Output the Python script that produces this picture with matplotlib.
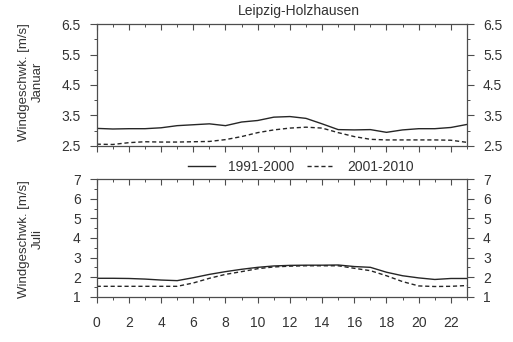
import matplotlib
matplotlib.use("Agg")
import matplotlib.pyplot as plt
from matplotlib.ticker import MultipleLocator

plt.rcParams["font.family"] = ["Liberation Sans", "DejaVu Sans"]

# Tagesgang der Windgeschwindigkeit (Stundenmittel)
hours = list(range(24))
jan_1991_2000 = [3.07, 3.05, 3.06, 3.06, 3.09, 3.16, 3.19, 3.22, 3.16, 3.28, 3.33, 3.44,
                 3.46, 3.40, 3.22, 3.03, 3.02, 3.03, 2.94, 3.02, 3.06, 3.06, 3.10, 3.20]
jan_2001_2010 = [2.55, 2.54, 2.60, 2.63, 2.62, 2.62, 2.63, 2.64, 2.70, 2.80, 2.93, 3.02,
                 3.08, 3.11, 3.08, 2.93, 2.80, 2.71, 2.69, 2.69, 2.69, 2.69, 2.68, 2.61]
jul_1991_2000 = [1.94, 1.94, 1.93, 1.90, 1.85, 1.82, 1.97, 2.14, 2.28, 2.40, 2.50, 2.57,
                 2.60, 2.61, 2.61, 2.62, 2.54, 2.50, 2.25, 2.07, 1.96, 1.88, 1.93, 1.93]
jul_2001_2010 = [1.53, 1.53, 1.53, 1.53, 1.53, 1.53, 1.70, 1.94, 2.14, 2.28, 2.43, 2.52,
                 2.56, 2.58, 2.58, 2.58, 2.45, 2.33, 2.07, 1.77, 1.55, 1.52, 1.53, 1.57]
xticks = list(range(0, 23, 2))
jan_yticks = [2.5, 3.5, 4.5, 5.5, 6.5]

TXT = "#333333"
LINE = "#262626"
SPINE = "#4d4d4d"
FS = 10

fig = plt.figure(figsize=(5.13, 3.42), dpi=100)
ax1 = fig.add_axes([0.1885, 0.574, 0.7218, 0.355])
ax2 = fig.add_axes([0.1885, 0.1325, 0.7218, 0.3433])


def style_axis(ax, ylim, show_xlabels):
    ax.set_xlim(0, 23)
    ax.set_ylim(*ylim)
    ax.xaxis.set_major_locator(MultipleLocator(2))
    ax.xaxis.set_minor_locator(MultipleLocator(1))
    ax.yaxis.set_major_locator(MultipleLocator(1.0))
    ax.yaxis.set_minor_locator(MultipleLocator(0.5))
    for s in ax.spines.values():
        s.set_color(SPINE)
        s.set_linewidth(0.9)
    # y-Achsen: Beschriftung links und rechts, Striche nach außen
    ax.tick_params(axis="y", which="major", direction="out", length=5, width=0.8,
                   color=SPINE, left=True, right=True, labelleft=True, labelright=True,
                   labelsize=FS, labelcolor=TXT, pad=6.5)
    ax.tick_params(axis="y", which="minor", direction="out", length=2.5, width=0.7,
                   color=SPINE, left=True, right=True)
    # x-Achse: oben nach innen, unten nach außen
    ax.tick_params(axis="x", which="major", direction="out", length=4, width=0.8,
                   color=SPINE, bottom=True, top=False, labelbottom=show_xlabels,
                   labelsize=FS, labelcolor=TXT, pad=10)
    ax.tick_params(axis="x", which="minor", direction="out", length=2, width=0.7,
                   color=SPINE, bottom=True, top=False)
    sec = ax.secondary_xaxis("top")
    sec.xaxis.set_major_locator(MultipleLocator(2))
    sec.xaxis.set_minor_locator(MultipleLocator(1))
    sec.spines["top"].set_visible(False)
    sec.tick_params(axis="x", which="major", direction="in", length=4, width=0.8,
                    color=SPINE, labeltop=False)
    sec.tick_params(axis="x", which="minor", direction="in", length=2, width=0.7,
                    color=SPINE)


ax1.plot(hours, jan_1991_2000, color=LINE, lw=1.0, label="1991-2000")
ax1.plot(hours, jan_2001_2010, color=LINE, lw=1.0, dashes=(3, 2), label="2001-2010")
style_axis(ax1, (2.5, 6.5), False)
ax1.set_yticks(jan_yticks)
ax1.set_yticklabels([f"{v:.1f}" for v in jan_yticks])

ax2.plot(hours, jul_1991_2000, color=LINE, lw=1.0)
ax2.plot(hours, jul_2001_2010, color=LINE, lw=1.0, dashes=(3, 2))
style_axis(ax2, (1, 7), True)
ax2.set_xticks(xticks)

# Stationsname über dem oberen Panel
fig.text(298.5 / 513, 1 - 15.5 / 342, "Leipzig-Holzhausen", ha="center",
         va="baseline", fontsize=10, color=TXT)

# Achsentitel links (zweizeilig)
fig.text(31 / 513, 1 - 82 / 342, "Windgeschwk. [m/s]\nJanuar", rotation=90,
         ha="center", va="center", multialignment="center", fontsize=9.5,
         color=TXT, linespacing=1.2)
fig.text(31 / 513, 1 - 239 / 342, "Windgeschwk. [m/s]\nJuli", rotation=90,
         ha="center", va="center", multialignment="center", fontsize=9.5,
         color=TXT, linespacing=1.2)

fig.legend(loc="center", bbox_to_anchor=(0.586, 0.512), ncol=2, frameon=False,
           fontsize=FS, labelcolor=TXT, handlelength=1.95, handletextpad=0.94,
           columnspacing=0.94, borderpad=0)

fig.savefig("out.png", dpi=100)
